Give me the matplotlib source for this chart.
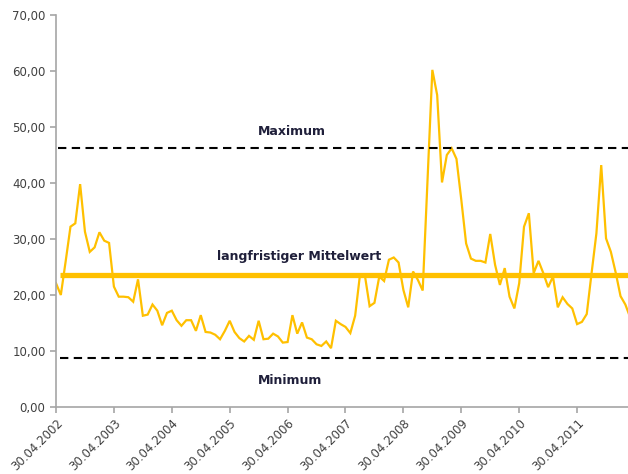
import matplotlib
matplotlib.use('Agg')
import numpy as np
import matplotlib.pyplot as plt

# monthly values from 30.04.2002 onwards
values = [22.1, 20.0, 26.0, 32.2, 32.8, 39.8, 31.3, 27.7, 28.5, 31.2, 29.7, 29.3,
          21.5, 19.7, 19.7, 19.6, 18.8, 22.8, 16.3, 16.5, 18.3, 17.2, 14.6, 16.8,
          17.2, 15.5, 14.5, 15.5, 15.5, 13.6, 16.4, 13.4, 13.3, 12.9, 12.1, 13.6,
          15.4, 13.4, 12.3, 11.7, 12.7, 12.0, 15.4, 12.1, 12.2, 13.1, 12.6, 11.5,
          11.6, 16.4, 13.1, 15.1, 12.4, 12.1, 11.2, 10.9, 11.7, 10.5, 15.4, 14.8,
          14.3, 13.2, 16.3, 23.6, 23.6, 18.0, 18.6, 23.3, 22.5, 26.3, 26.7, 25.8,
          20.9, 17.8, 24.2, 22.7, 20.8, 40.5, 60.2, 55.7, 40.1, 45.0, 46.2, 44.3,
          37.0, 29.2, 26.5, 26.1, 26.1, 25.8, 30.9, 25.4, 21.8, 24.8, 19.7, 17.6,
          22.1, 32.2, 34.6, 23.9, 26.1, 23.9, 21.4, 23.3, 17.8, 19.6, 18.4, 17.6,
          14.8, 15.2, 16.6, 23.9, 31.0, 43.2, 30.1, 27.7, 24.0, 19.8, 18.3, 16.0]
tick_labels = ['30.04.2002', '30.04.2003', '30.04.2004', '30.04.2005', '30.04.2006',
               '30.04.2007', '30.04.2008', '30.04.2009', '30.04.2010', '30.04.2011']
maximum = 46.3
minimum = 8.8
mittelwert = 23.6

gold = '#FFC000'
txt = '#1F1F3A'

fig = plt.figure(figsize=(6.28, 4.74), dpi=100)
ax = fig.add_axes([56/628, 67/474, 1 - 56/628, 392/474])

x = np.arange(len(values))
ax.plot(x, values, color=gold, lw=1.6, solid_joinstyle='miter')
ax.hlines(mittelwert, 0.8, len(values), color=gold, lw=3.8)
ax.hlines(maximum, 0.4, len(values), color='black', lw=1.5, linestyles=(0, (4, 2.6)))
ax.hlines(minimum, 0.8, len(values), color='black', lw=1.5, linestyles=(0, (4, 2.6)))

ax.text(48.8, maximum + 2.9, 'Maximum', ha='center', va='center',
        fontsize=9, fontweight='bold', color=txt)
ax.text(50.4, mittelwert + 3.2, 'langfristiger Mittelwert', ha='center', va='center',
        fontsize=9, fontweight='bold', color=txt)
ax.text(48.5, minimum - 4.1, 'Minimum', ha='center', va='center',
        fontsize=9, fontweight='bold', color=txt)

ax.set_xlim(0, 118.55)
ax.set_ylim(0, 70)
ax.set_yticks(np.arange(0, 71, 10))
ax.set_yticklabels(['%d,00' % v for v in range(0, 71, 10)])
ax.set_xticks(np.arange(0, 12 * len(tick_labels), 12))
ax.set_xticklabels(tick_labels, rotation=45, ha='right', rotation_mode='anchor')

for s in ['top', 'right']:
    ax.spines[s].set_visible(False)
for s in ['left', 'bottom']:
    ax.spines[s].set_color('#A6A6A6')
    ax.spines[s].set_linewidth(1.2)
ax.tick_params(axis='both', colors='#A6A6A6', labelcolor='#404040',
               labelsize=8.5, length=4, width=1.2, direction='out')
ax.tick_params(axis='x', pad=3)

fig.savefig('out.png', dpi=100)
